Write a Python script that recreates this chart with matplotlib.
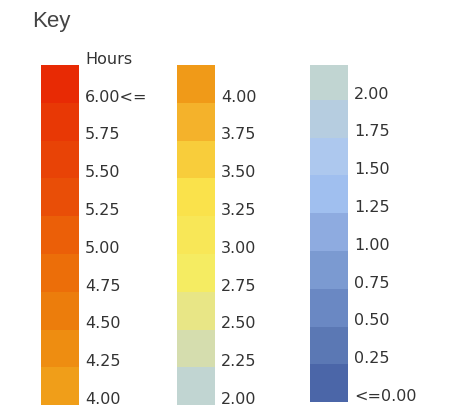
import matplotlib
matplotlib.use("Agg")
import matplotlib.pyplot as plt

# legend columns, top cell first; label = lower bound of each cell
hot_labels = ["6.00<=", "5.75", "5.50", "5.25", "5.00", "4.75", "4.50", "4.25", "4.00"]
hot_colors = ["#e82a04", "#e83805", "#e84306", "#e94e07", "#eb5f08", "#ec6e09",
              "#ec7d0c", "#ee8d11", "#f09e19"]

mid_labels = ["4.25", "4.00", "3.75", "3.50", "3.25", "3.00", "2.75", "2.50", "2.25", "2.00"]
mid_colors = ["#f09a18", "#f4b22b", "#f8cd3b", "#fae24b", "#f8e757", "#f5ec62",
              "#e8e686", "#d5ddae", "#c1d5d2"]

cool_labels = ["2.00", "1.75", "1.50", "1.25", "1.00", "0.75", "0.50", "0.25", "<=0.00"]
cool_colors = ["#c1d5d2", "#b6cde0", "#adc8ee", "#a0bfef", "#8eabe0", "#7b9ad1",
               "#6a88c3", "#5b78b4", "#4b66a8"]

W, H = 461, 407
CELL = 37.8  # px per cell, both directions
fig = plt.figure(figsize=(W / 100, H / 100), dpi=100)


def column(left_px, top_px, colors, labels, shift=0.0):
    width_px = 125
    ax = fig.add_axes([left_px / W, 0, width_px / W, (H - top_px) / H])
    ax.set_axis_off()
    n = len(colors)
    ax.bar([0] * n, [1] * n, bottom=[-(i + 1) for i in range(n)], width=1,
           align="edge", color=colors, linewidth=0)
    # labels sit just above the lower edge of each cell
    extra = len(labels) - n
    for j, lab in enumerate(labels):
        i = j - extra
        t = ax.text(1.17, -(i + 1) + 0.15, lab, fontsize=11.5, color="#333333",
                    ha="left", va="center", family="DejaVu Sans")
        t.set_clip_on(True)
    ax.set_xlim(0, width_px / CELL)
    ax.set_ylim(-(H - top_px) / CELL - shift, -shift)
    return ax


ax1 = column(41, 65, hot_colors, hot_labels)
ax2 = column(177, 65, mid_colors, mid_labels)
ax3 = column(310, 65, cool_colors, cool_labels, shift=0.08)

ax1.text(1.17, 0.15, "Hours", fontsize=11.5, color="#333333", ha="left",
         va="center", family="DejaVu Sans", clip_on=False)

fig.text(32 / W, 1 - 21 / H, "Key", fontsize=16, color="#444444",
         ha="left", va="center", family="Liberation Sans")

fig.savefig("out.png", dpi=100)
plt.close(fig)
